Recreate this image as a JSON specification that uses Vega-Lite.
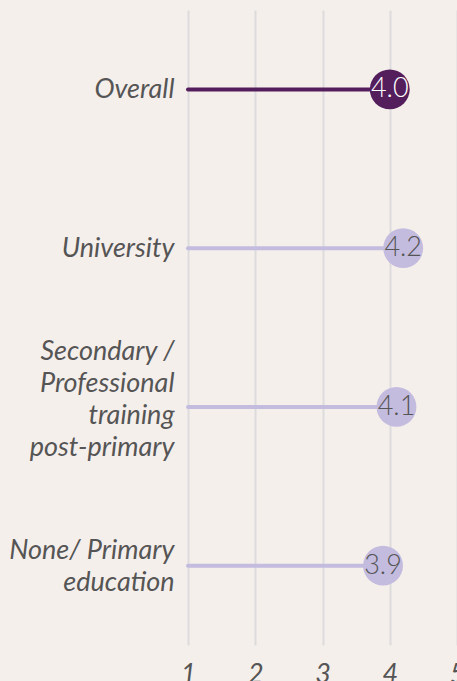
{
  "$schema": "https://vega.github.io/schema/vega-lite/v6.json",
  "autosize": "none",
  "width": 269,
  "height": 635,
  "padding": {"left": 188, "top": 10, "right": 0, "bottom": 36},
  "background": "#f5efec",
  "config": {
    "view": {"stroke": null},
    "font": "Lato"
  },
  "data": {
    "values": [
      {"group": "Overall", "value": 4.0, "start": 1, "kind": "overall", "label": "4.0"},
      {"group": "University", "value": 4.2, "start": 1, "kind": "sub", "label": "4.2"},
      {"group": "Secondary / Professional training post-primary", "value": 4.1, "start": 1, "kind": "sub", "label": "4.1"},
      {"group": "None/ Primary education", "value": 3.9, "start": 1, "kind": "sub", "label": "3.9"}
    ]
  },
  "encoding": {
    "y": {
      "field": "group",
      "type": "nominal",
      "sort": null,
      "scale": {"type": "point", "padding": 0.5},
      "axis": {
        "title": null,
        "domain": false,
        "ticks": false,
        "grid": false,
        "labelPadding": 14,
        "labelFont": "Lato",
        "labelFontStyle": "italic",
        "labelFontSize": 27,
        "labelColor": "#555555",
        "labelLineHeight": 32,
        "labelLimit": 200,
        "labelOffset": {
          "condition": [
            {"test": "datum.value == 'Secondary / Professional training post-primary'", "value": -55},
            {"test": "datum.value == 'None/ Primary education'", "value": -15}
          ],
          "value": 0
        },
        "labelExpr": "datum.value == 'Secondary / Professional training post-primary' ? ['Secondary /', 'Professional', 'training', 'post-primary'] : datum.value == 'None/ Primary education' ? ['None/ Primary', 'education'] : datum.value"
      }
    }
  },
  "layer": [
    {
      "mark": {"type": "rule", "strokeWidth": 4, "strokeCap": "round"},
      "encoding": {
        "x": {
          "field": "start",
          "type": "quantitative",
          "scale": {"domain": [1, 5], "nice": false, "zero": false},
          "axis": {
            "title": null,
            "domain": false,
            "ticks": false,
            "values": [1, 2, 3, 4, 5],
            "format": "d",
            "grid": true,
            "gridColor": "#dcdcdc",
            "gridWidth": 2,
            "labelPadding": 16,
            "labelFont": "Lato",
            "labelFontStyle": "italic",
            "labelFontSize": 27,
            "labelColor": "#555555",
            "labelFlush": false,
            "labelOverlap": false
          }
        },
        "x2": {"field": "value"},
        "color": {
          "field": "kind",
          "type": "nominal",
          "scale": {"domain": ["overall", "sub"], "range": ["#541d5c", "#c4bcdf"]},
          "legend": null
        }
      }
    },
    {
      "mark": {"type": "circle", "size": 1590, "opacity": 1},
      "encoding": {
        "x": {"field": "value", "type": "quantitative"},
        "color": {
          "field": "kind",
          "type": "nominal",
          "scale": {"domain": ["overall", "sub"], "range": ["#541d5c", "#c4bcdf"]},
          "legend": null
        }
      }
    },
    {
      "mark": {"type": "text", "font": "Lato", "fontSize": 27, "fontWeight": 300, "align": "center", "baseline": "middle"},
      "encoding": {
        "x": {"field": "value", "type": "quantitative"},
        "text": {"field": "label"},
        "color": {
          "field": "kind",
          "type": "nominal",
          "scale": {"domain": ["overall", "sub"], "range": ["#ffffff", "#555555"]},
          "legend": null
        }
      }
    }
  ],
  "resolve": {"scale": {"color": "independent"}}
}
